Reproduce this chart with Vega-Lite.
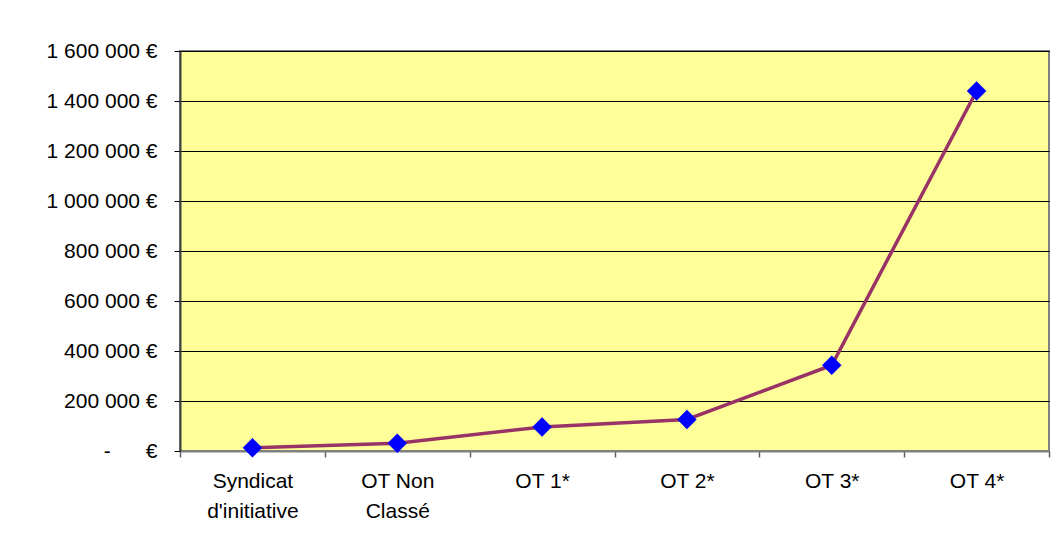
{
  "$schema": "https://vega.github.io/schema/vega-lite/v6.json",
  "width": 869,
  "height": 400,
  "autosize": "none",
  "padding": {"left": 180, "top": 51, "right": 3, "bottom": 96},
  "background": "white",
  "config": {
    "view": {"fill": "#FFFF99", "stroke": "#808080", "strokeWidth": 2},
    "font": "Liberation Sans"
  },
  "data": {
    "values": [
      {"category": "Syndicat d'initiative", "value": 13000},
      {"category": "OT Non Classé", "value": 31000},
      {"category": "OT 1*", "value": 96000},
      {"category": "OT 2*", "value": 126000},
      {"category": "OT 3*", "value": 343000},
      {"category": "OT 4*", "value": 1440000}
    ]
  },
  "encoding": {
    "x": {
      "field": "category",
      "type": "nominal",
      "sort": null,
      "scale": {"type": "band", "paddingInner": 0, "paddingOuter": 0},
      "axis": {
        "title": null,
        "tickBand": "extent",
        "tickSize": 6,
        "tickColor": "#606060",
        "tickWidth": 1.5,
        "domainColor": "#808080",
        "domainWidth": 2,
        "labelAngle": 0,
        "labelFontSize": 21,
        "labelColor": "black",
        "labelPadding": 13,
        "labelBaseline": "top",
        "labelLineHeight": 30,
        "labelExpr": "datum.value == \"Syndicat d'initiative\" ? ['Syndicat', \"d'initiative\"] : datum.value == 'OT Non Classé' ? ['OT Non', 'Classé'] : datum.value"
      }
    },
    "y": {
      "field": "value",
      "type": "quantitative",
      "scale": {"domain": [0, 1600000], "nice": false},
      "axis": {
        "title": null,
        "values": [0, 200000, 400000, 600000, 800000, 1000000, 1200000, 1400000, 1600000],
        "tickSize": 6,
        "tickColor": "black",
        "domainColor": "#404040",
        "domainWidth": 2,
        "grid": true,
        "gridColor": "black",
        "gridWidth": 1,
        "gridOpacity": 1,
        "labelFontSize": 21,
        "labelColor": "black",
        "labelPadding": 17,
        "labelBaseline": "middle",
        "labelExpr": "datum.value == 0 ? '-\u00a0\u00a0\u00a0\u00a0\u00a0\u00a0€' : replace(format(datum.value, ','), regexp(',', 'g'), ' ') + ' €'"
      }
    }
  },
  "layer": [
    {"mark": {"type": "line", "color": "#993366", "strokeWidth": 3.5}},
    {"mark": {"type": "point", "shape": "diamond", "filled": true, "color": "#0000FF", "size": 380, "opacity": 1, "strokeWidth": 0}}
  ]
}
